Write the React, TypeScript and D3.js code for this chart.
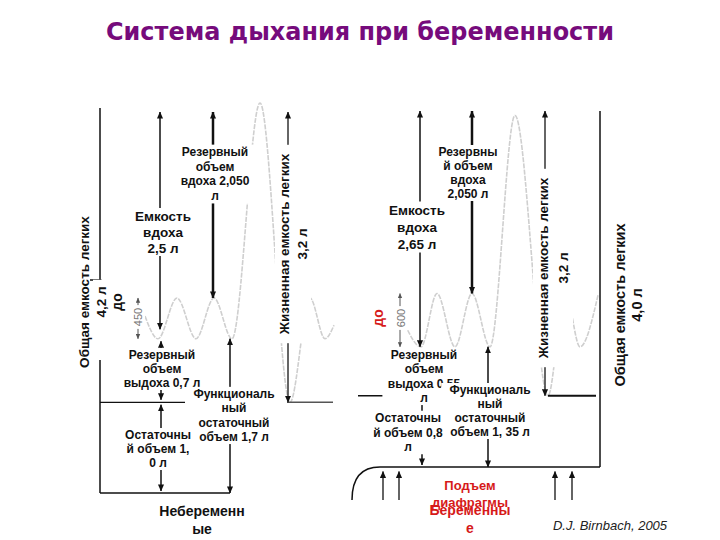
import React from "react";
import * as d3 from "d3";

// ---- Data ----
const volumeKeys = ["TLC", "VC", "IC", "IRV", "TV", "ERV", "FRC", "RV"];
const nonPregnantVolumes = [4.2, 3.2, 2.5, 2.05, 0.45, 0.7, 1.7, 1.0];
const pregnantVolumes = [4.0, 3.2, 2.65, 2.05, 0.6, 0.55, 1.35, 0.8];

// spirogram traces (time units, litres)
const nonPregTraceTime = [9, 11.6, 15.4, 19.2, 22.8, 26.4, 32, 38, 42, 45, 46.8];
const nonPregTraceVolume = [1.95, 1.7, 2.15, 1.7, 2.15, 1.7, 4.3, 1.0, 2.15, 1.7, 1.85];
const pregTraceTime = [61, 64.2, 67.4, 71, 74.4, 78, 83, 89.6, 93, 96, 99.6];
const pregTraceVolume = [1.6, 1.35, 1.95, 1.35, 1.95, 1.35, 3.95, 0.8, 1.99, 1.35, 1.93];

// diaphragm arrows (time positions)
const diaphragmArrowTimes = [56.6, 59.8, 91, 94.4];

const titleText = "Система дыхания при беременности";
const creditText = "D.J. Birnbach, 2005";

const v = (arr: number[], k: string) => arr[volumeKeys.indexOf(k)];

const W = 720;
const H = 540;
const FONT = "'Liberation Sans', Arial, sans-serif";

type LabelProps = {
  x: number;
  y: number;
  lines: string[];
  size?: number;
  lh?: number;
  fill?: string;
  weight?: string;
  bg?: boolean;
  rotate?: boolean;
  italic?: boolean;
};

function Label({ x, y, lines, size = 12, lh = 14, fill = "#111", weight = "bold", bg = true, rotate = false, italic = false }: LabelProps) {
  const maxLen = Math.max(...lines.map((l) => l.length));
  const w = maxLen * size * 0.6 + 4;
  const h = lines.length * lh;
  return (
    <g transform={`translate(${x},${y})${rotate ? " rotate(-90)" : ""}`}>
      {bg && <rect x={-w / 2} y={-lh / 2} width={w} height={h} fill="#fff" />}
      {lines.map((l, i) => (
        <text
          key={i}
          x={0}
          y={i * lh}
          textAnchor="middle"
          dominantBaseline="central"
          fontFamily={FONT}
          fontSize={size}
          fontWeight={weight}
          fontStyle={italic ? "italic" : "normal"}
          fill={fill}
        >
          {l}
        </text>
      ))}
    </g>
  );
}

function Arrow({ x, y1, y2, w = 1.5, start = true, end = true, color = "#111", marker = "ah" }: any) {
  return (
    <line
      x1={x}
      x2={x}
      y1={y1}
      y2={y2}
      stroke={color}
      strokeWidth={w}
      markerStart={start ? `url(#${marker})` : undefined}
      markerEnd={end ? `url(#${marker})` : undefined}
    />
  );
}

export default function App() {
  const x = d3.scaleLinear().domain([0, 100]).range([100, 600]);
  const yL = d3.scaleLinear().domain([0, 4.2]).range([493, 112]);
  const yR = d3.scaleLinear().domain([0, 4.0]).range([467, 111]);

  const L = {
    TLC: v(nonPregnantVolumes, "TLC"),
    RV: v(nonPregnantVolumes, "RV"),
    FRC: v(nonPregnantVolumes, "FRC"),
    TV: v(nonPregnantVolumes, "TV"),
  };
  const R = {
    TLC: v(pregnantVolumes, "TLC"),
    RV: v(pregnantVolumes, "RV"),
    FRC: v(pregnantVolumes, "FRC"),
    TV: v(pregnantVolumes, "TV"),
  };

  const lineL = d3
    .line<number>()
    .x((_, i) => x(nonPregTraceTime[i]))
    .y((d) => yL(d))
    .curve(d3.curveMonotoneX);
  const lineR = d3
    .line<number>()
    .x((_, i) => x(pregTraceTime[i]))
    .y((d) => yR(d))
    .curve(d3.curveMonotoneX);

  const g = 2.5;

  const curvePath = `M${x(50.4)},${yR(-0.37)} Q${x(50.4)},${yR(0)} ${x(56)},${yR(0)}`;

  return (
    <svg
      width={W}
      height={H}
      viewBox={`0 0 ${W} ${H}`}
      style={{ position: "absolute", left: 0, top: 0, background: "#fff" }}
    >
      <defs>
        <marker id="ah" viewBox="0 0 8 8" refX="7.5" refY="4" markerWidth="7" markerHeight="7" markerUnits="userSpaceOnUse" orient="auto-start-reverse">
          <path d="M0,0.5 L8,4 L0,7.5 Z" fill="#111" />
        </marker>
        <marker id="ahs" viewBox="0 0 8 8" refX="7.5" refY="4" markerWidth="5" markerHeight="5" markerUnits="userSpaceOnUse" orient="auto-start-reverse">
          <path d="M0,0.5 L8,4 L0,7.5 Z" fill="#555" />
        </marker>
      </defs>

      <rect x={0} y={0} width={W} height={H} fill="#fff" />

      <text
        x={W / 2}
        y={40}
        textAnchor="middle"
        fontFamily="'DejaVu Sans', sans-serif"
        fontWeight="bold"
        fontSize={25}
        fill="#760b7c"
        textLength={508}
        lengthAdjust="spacingAndGlyphs"
      >
        {titleText}
      </text>

      {/* Spirogram traces */}
      <path d={lineL(nonPregTraceVolume) || ""} fill="none" stroke="#cfcfcf" strokeWidth={1.6} strokeDasharray="5 1.2" />
      <path d={lineR(pregTraceVolume) || ""} fill="none" stroke="#cfcfcf" strokeWidth={1.6} strokeDasharray="5 1.2" />

      {/* ===== Non-pregnant panel ===== */}
      <line x1={x(0)} x2={x(0)} y1={yL(L.TLC) - 4} y2={280} stroke="#111" strokeWidth={1.5} />
      <line x1={x(-2)} x2={x(0.3)} y1={280} y2={280} stroke="#111" strokeWidth={1.5} />
      <line x1={x(0)} x2={x(0)} y1={360} y2={yL(0)} stroke="#111" strokeWidth={1.5} />
      <line x1={x(0)} x2={x(26)} y1={yL(0)} y2={yL(0)} stroke="#111" strokeWidth={1.5} />
      <line x1={x(0)} x2={x(17)} y1={yL(L.RV)} y2={yL(L.RV)} stroke="#111" strokeWidth={1.2} />
      <line x1={x(37.4)} x2={x(46.6)} y1={yL(L.RV)} y2={yL(L.RV)} stroke="#555" strokeWidth={1.5} />

      <Arrow x={x(12)} y1={yL(L.TLC)} y2={yL(L.FRC) - g - 7} />
      <Arrow x={x(22.6)} y1={yL(L.TLC)} y2={yL(L.FRC + L.TV)} w={2.5} />
      <Arrow x={x(12.2)} y1={yL(L.FRC) + g} y2={yL(L.RV) - g} />
      <Arrow x={x(12.2)} y1={yL(L.RV) + g} y2={yL(0) - 2} />
      <Arrow x={x(26)} y1={yL(L.FRC)} y2={yL(0)} />
      <Arrow x={x(37.6)} y1={yL(L.TLC)} y2={yL(L.RV)} color="#333" />
      <Arrow x={x(7.6)} y1={yL(L.FRC + 0.12)} y2={yL(L.FRC + L.TV)} w={1} start={false} marker="ahs" color="#555" />
      <Arrow x={x(7.6)} y1={yL(L.FRC + 0.33)} y2={yL(L.FRC)} w={1} start={false} marker="ahs" color="#555" />

      <Label x={215} y={152} lines={["Резервный", "объем", "вдоха 2,050", "л"]} size={12} lh={14.7} />
      <Label x={163} y={216} lines={["Емкость", "вдоха", "2,5 л"]} size={13.5} lh={16} />
      <Label x={162} y={355} lines={["Резервный", "объем", "выдоха 0,7 л"]} size={12} lh={14} />
      <Label x={158} y={435} lines={["Остаточны", "й объем 1,", "0 л"]} size={12} lh={14} />
      <Label x={234} y={394} lines={["Функциональ", "ный", "остаточный", "объем 1,7 л"]} size={12} lh={14.3} />
      <Label x={202} y={511} lines={["Небеременн", "ые"]} size={14} lh={18} bg={false} />
      <Label x={284} y={244} lines={["Жизненная емкость легких", "3,2 л"]} size={13.5} lh={18} rotate />
      <Label x={84} y={292} lines={["Общая емкость легких"]} size={13.5} lh={16} rotate bg={false} />
      <Label x={101} y={302} lines={["4,2 л"]} size={13.5} lh={16} rotate />
      <Label x={117} y={302} lines={["до"]} size={14} lh={16} rotate bg={false} />
      <Label x={138} y={317} lines={["450"]} size={11} lh={14} rotate weight="normal" fill="#777" />

      {/* ===== Pregnant panel ===== */}
      <line x1={x(100)} x2={x(100)} y1={yR(R.TLC)} y2={yR(0)} stroke="#111" strokeWidth={1.5} />
      <line x1={x(56)} x2={x(100)} y1={yR(0)} y2={yR(0)} stroke="#111" strokeWidth={1.5} />
      <path d={curvePath} fill="none" stroke="#111" strokeWidth={1.5} />
      <line x1={x(51.6)} x2={x(67.8)} y1={yR(R.RV)} y2={yR(R.RV)} stroke="#111" strokeWidth={1.5} />
      <line x1={x(89.6)} x2={x(99.2)} y1={yR(R.RV)} y2={yR(R.RV)} stroke="#111" strokeWidth={2} />

      {diaphragmArrowTimes.map((t, i) => (
        <Arrow key={i} x={x(t)} y1={yR(-0.37)} y2={yR(-0.05)} start={false} w={1.3} />
      ))}

      <Arrow x={x(64)} y1={yR(R.TLC)} y2={yR(R.FRC)} />
      <Arrow x={x(74.4)} y1={yR(R.TLC)} y2={yR(R.FRC + R.TV)} w={2.5} />
      <Arrow x={x(64.6)} y1={yR(R.FRC) + g} y2={yR(R.RV) - g} />
      <Arrow x={x(64.4)} y1={yR(R.RV) + g} y2={yR(0) - 2} />
      <Arrow x={x(77.6)} y1={yR(R.FRC)} y2={yR(0)} />
      <Arrow x={x(89)} y1={yR(R.TLC)} y2={yR(R.RV)} color="#333" />
      <Arrow x={x(60)} y1={yR(R.FRC + 0.2)} y2={yR(R.FRC + R.TV)} w={1} start={false} marker="ahs" color="#555" />
      <Arrow x={x(60)} y1={yR(R.FRC + 0.42)} y2={yR(R.FRC)} w={1} start={false} marker="ahs" color="#555" />

      <Label x={468} y={152} lines={["Резервны", "й объем", "вдоха", "2,050 л"]} size={12} lh={14} />
      <Label x={417} y={210} lines={["Емкость", "вдоха", "2,65 л"]} size={13.5} lh={17} />
      <Label x={424} y={355} lines={["Резервный", "объем", "выдоха 0,55", "л"]} size={12} lh={14.3} />
      <Label x={490} y={390} lines={["Функциональ", "ный", "остаточный", "объем 1, 35 л"]} size={12} lh={14} />
      <Label x={408} y={418} lines={["Остаточны", "й объем 0,8", "л"]} size={12} lh={14.5} />
      <Label x={543} y={268} lines={["Жизненная емкость легких", "3,2 л"]} size={13.5} lh={20} rotate />
      <Label x={620} y={305} lines={["Общая емкость легких", "4,0 л"]} size={14.5} lh={17} rotate />
      <Label x={378} y={318} lines={["до"]} size={14} lh={16} rotate bg={false} fill="#d61a1a" />
      <Label x={401} y={318} lines={["600"]} size={11} lh={14} rotate weight="normal" fill="#777" />

      <Label x={470} y={485} lines={["Подъем", "диафрагмы"]} size={13} lh={17} bg={false} fill="#d61a1a" />
      <Label x={470} y={510} lines={["Беременны", "е"]} size={14} lh={18} bg={false} fill="#d61a1a" />

      <Label x={610} y={525} lines={[creditText]} size={13} lh={14} bg={false} weight="normal" italic fill="#222" />
    </svg>
  );
}
